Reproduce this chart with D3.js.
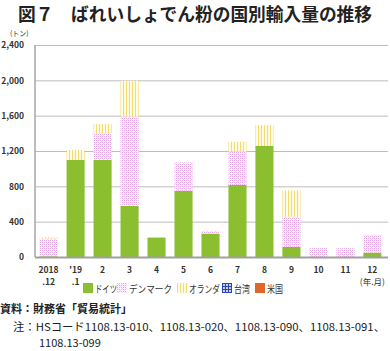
<!DOCTYPE html>
<html>
<head>
<meta charset="utf-8">
<script src="https://cdn.jsdelivr.net/npm/d3@7"></script>
<style>
  body { margin: 0; background: #fff; }
  text { font-family: "Noto Sans CJK JP", "DejaVu Sans", sans-serif; }
</style>
</head>
<body>
<div id="chart"></div>
<script>
// months (two-line labels)
const months_top = ["2018", "'19", "2", "3", "4", "5", "6", "7", "8", "9", "10", "11", "12"]
const months_bottom = [".12", ".1", "", "", "", "", "", "", "", "", "", "", "(年.月)"]

// imports in tonnes
const germany     = [8, 1100, 1100, 580, 220, 750, 265, 815, 1260, 115, 0, 0, 50]
const denmark     = [200, 0, 300, 1010, 0, 320, 30, 380, 0, 340, 100, 100, 200]
const netherlands = [15, 110, 105, 405, 0, 0, 0, 110, 235, 300, 0, 0, 0]
const taiwan      = [0, 0, 0, 0, 0, 0, 0, 0, 0, 0, 0, 0, 0]
const usa         = [0, 0, 0, 0, 0, 0, 0, 0, 0, 0, 0, 0, 0]

const series_names = ["ドイツ", "デンマーク", "オランダ", "台湾", "米国"]
const y_ticks = [0, 400, 800, 1200, 1600, 2000, 2400]

const width = 390, height = 351
const plot = { left: 35, right: 386, top: 45, bottom: 257 }

const svg = d3.select("#chart").append("svg")
    .attr("width", width)
    .attr("height", height)

// fill patterns
const defs = svg.append("defs")

let pink = defs.append("pattern").attr("id", "pat-dk")
    .attr("patternUnits", "userSpaceOnUse").attr("width", 4).attr("height", 4)
pink.append("rect").attr("width", 4).attr("height", 4).attr("fill", "#fdf3fd")
pink.append("path").attr("d", "M0,0h1v1h-1z M2,2h1v1h-1z M2,0h1v1h-1z M0,2h1v1h-1z")
    .attr("fill", "#e7a6e7")
pink.append("path").attr("d", "M1,1h1v1h-1z M3,3h1v1h-1z").attr("fill", "#f3d3f3")

let yellow = defs.append("pattern").attr("id", "pat-nl")
    .attr("patternUnits", "userSpaceOnUse").attr("width", 3).attr("height", 3)
yellow.append("rect").attr("width", 3).attr("height", 3).attr("fill", "#fffbe6")
yellow.append("rect").attr("width", 1).attr("height", 3).attr("fill", "#f3dc6a")

let blue = defs.append("pattern").attr("id", "pat-tw")
    .attr("patternUnits", "userSpaceOnUse").attr("width", 3).attr("height", 3)
blue.append("rect").attr("width", 3).attr("height", 3).attr("fill", "#c8d0f0")
blue.append("rect").attr("width", 1).attr("height", 3).attr("fill", "#2d45b0")
blue.append("rect").attr("width", 3).attr("height", 1).attr("fill", "#2d45b0")

const fills = ["#8cbf2f", "url(#pat-dk)", "url(#pat-nl)", "url(#pat-tw)", "#e0662a"]

// title
svg.append("text")
    .attr("x", 18).attr("y", 21)
    .attr("font-size", 18).attr("font-weight", "bold").attr("fill", "#222")
    .attr("textLength", 354).attr("lengthAdjust", "spacingAndGlyphs")
    .text("図７　ばれいしょでん粉の国別輸入量の推移")

svg.append("text")
    .attr("x", 10).attr("y", 36)
    .attr("font-size", 7).attr("fill", "#333")
    .text("(トン)")

// scales
const xScale = d3.scaleBand()
    .domain(d3.range(months_top.length))
    .range([plot.left, plot.right])
    .paddingInner(0.33).paddingOuter(0.17)

const yScale = d3.scaleLinear().domain([0, 2400]).range([plot.bottom, plot.top])

// gridlines
svg.append("g")
    .attr("transform", "translate(" + plot.left + ",0)")
    .call(d3.axisLeft(yScale).tickValues(y_ticks.slice(1))
        .tickSize(-(plot.right + 2 - plot.left)).tickFormat(""))
    .call(g => g.select(".domain").remove())
    .call(g => g.selectAll("line").attr("stroke", "#bdbdbd").attr("stroke-width", 1))

// y labels
svg.append("g")
    .attr("transform", "translate(" + plot.left + ",0)")
    .call(d3.axisLeft(yScale).tickValues(y_ticks).tickSize(0).tickPadding(11)
        .tickFormat(d3.format(",")))
    .call(g => g.select(".domain").remove())
    .call(g => g.selectAll("text")
        .attr("font-family", "DejaVu Sans").attr("font-size", 8.5)
        .attr("font-weight", "bold").attr("fill", "#333"))

// stacked bars
const table = months_top.map((m, i) => ({
    i: i,
    "ドイツ": germany[i], "デンマーク": denmark[i], "オランダ": netherlands[i],
    "台湾": taiwan[i], "米国": usa[i]
}))
const stacked = d3.stack().keys(series_names)(table)

svg.append("g").selectAll("g")
    .data(stacked).join("g")
    .attr("fill", (d, k) => fills[k])
    .selectAll("rect")
    .data(d => d).join("rect")
    .attr("x", d => xScale(d.data.i))
    .attr("width", xScale.bandwidth())
    .attr("y", d => yScale(d[1]))
    .attr("height", d => yScale(d[0]) - yScale(d[1]))

// axis lines
svg.append("line")
    .attr("x1", plot.left).attr("x2", plot.left)
    .attr("y1", plot.top).attr("y2", plot.bottom)
    .attr("stroke", "#a6a6a6").attr("stroke-width", 1.5)
svg.append("line")
    .attr("x1", plot.left).attr("x2", plot.right + 2)
    .attr("y1", plot.bottom + 0.5).attr("y2", plot.bottom + 0.5)
    .attr("stroke", "#a0a0a0").attr("stroke-width", 2)

// x labels
let xl = svg.append("g")
xl.selectAll(".top").data(months_top).join("text")
    .attr("x", (d, i) => xScale(i) + xScale.bandwidth() / 2)
    .attr("y", 273)
    .attr("text-anchor", "middle")
    .attr("font-family", "DejaVu Sans").attr("font-size", 8.5)
    .attr("font-weight", "bold").attr("fill", "#333")
    .text(d => d)
xl.selectAll(".bottom").data(months_bottom).join("text")
    .attr("x", (d, i) => xScale(i) + xScale.bandwidth() / 2)
    .attr("y", 285)
    .attr("text-anchor", "middle")
    .attr("font-family", (d, i) => i == 12 ? "Noto Sans CJK JP" : "DejaVu Sans")
    .attr("font-size", 8.5)
    .attr("font-weight", (d, i) => i == 12 ? "normal" : "bold").attr("fill", "#333")
    .text(d => d)

// legend
const legend_x = [83, 117, 177, 222, 255]
const legend_w = [22, 43, 31, 16, 16]
let lg = svg.append("g").selectAll("g")
    .data(series_names).join("g")
    .attr("transform", (d, k) => "translate(" + legend_x[k] + ",283)")
lg.append("rect").attr("width", 10).attr("height", 10).attr("fill", (d, k) => fills[k])
lg.append("text")
    .attr("x", 12).attr("y", 9.5)
    .attr("font-size", 10).attr("fill", "#333")
    .attr("textLength", (d, k) => legend_w[k]).attr("lengthAdjust", "spacingAndGlyphs")
    .text(d => d)

// source and notes
svg.append("text")
    .attr("x", 0).attr("y", 313)
    .attr("font-size", 11).attr("font-weight", "bold").attr("fill", "#222")
    .text("資料：財務省「貿易統計」")
svg.append("text")
    .attr("x", 13).attr("y", 331)
    .attr("font-size", 11).attr("fill", "#222")
    .attr("textLength", 372).attr("lengthAdjust", "spacingAndGlyphs")
    .text("注：HSコード1108.13-010、1108.13-020、1108.13-090、1108.13-091、")
svg.append("text")
    .attr("x", 39).attr("y", 347)
    .attr("font-size", 11).attr("fill", "#222")
    .text("1108.13-099")
</script>
</body>
</html>
